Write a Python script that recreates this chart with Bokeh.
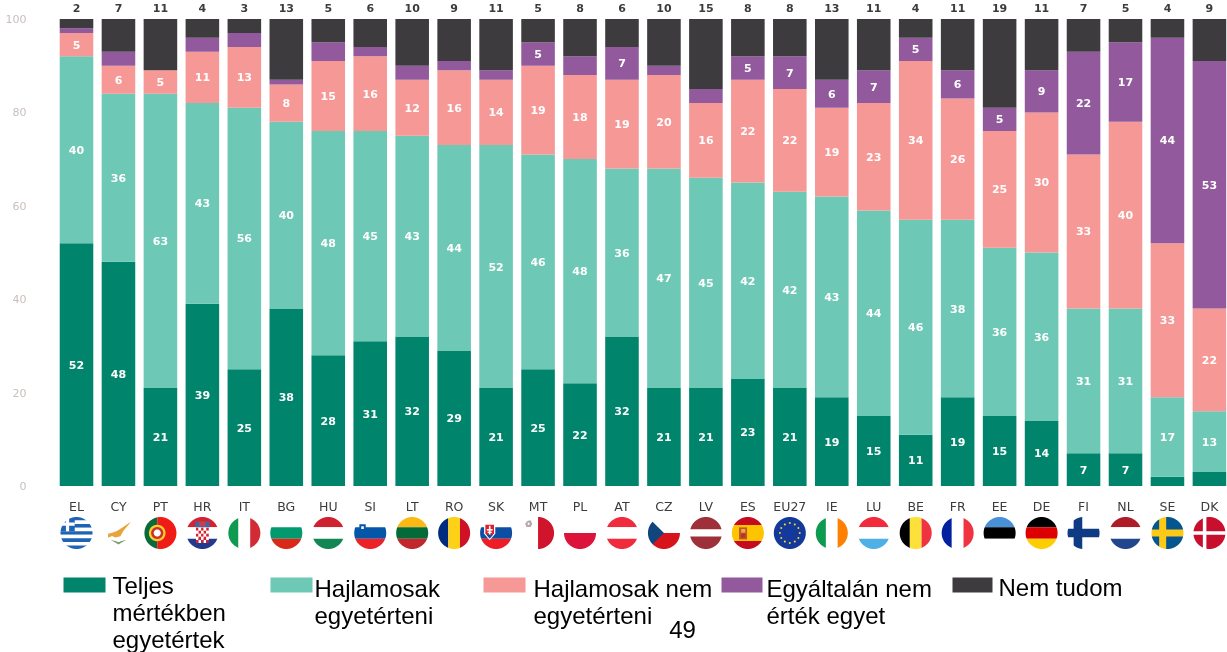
import math
from bokeh.plotting import figure
from bokeh.models import ColumnDataSource, Range1d, FixedTicker
from bokeh.core.properties import value
from bokeh.embed import file_html
from bokeh.resources import INLINE

countries = ["EL","CY","PT","HR","IT","BG","HU","SI","LT","RO","SK","MT","PL","AT","CZ","LV","ES","EU27","IE","LU","BE","FR","EE","DE","FI","NL","SE","DK"]
teljes = [52,48,21,39,25,38,28,31,32,29,21,25,22,32,21,21,23,21,19,15,11,19,15,14,7,7,2,3]
hajlamosak = [40,36,63,43,56,40,48,45,43,44,52,46,48,36,47,45,42,42,43,44,46,38,36,36,31,31,17,13]
hajl_nem = [5,6,5,11,13,8,15,16,12,16,14,19,18,19,20,16,22,22,19,23,34,26,25,30,33,40,33,22]
egyaltalan = [1,3,0,3,3,1,4,2,3,2,2,5,4,7,2,3,5,7,6,7,5,6,5,9,22,17,44,53]
nem_tudom = [2,7,11,4,3,13,5,6,10,9,11,5,8,6,10,15,8,8,13,11,4,11,19,11,7,5,4,9]
series_names = ["teljes","hajlamosak","hajl_nem","egyaltalan","nem_tudom"]
series_colors = ["#00856c","#6dc8b6","#f59896","#92599c","#3e3b3f"]
legend_labels = [["Teljes","mértékben","egyetértek"],["Hajlamosak","egyetérteni"],["Hajlamosak nem","egyetérteni"],["Egyáltalán nem","érték egyet"],["Nem tudom"]]
page_number = "49"

W, H = 1227, 652
LEFT = 30
X0, STEP = 76.0, 41.96
Y0, UNIT = 485.5, 4.67

p = figure(width=W, height=H, output_backend="svg", toolbar_location=None,
           x_range=Range1d((LEFT-X0)/STEP, (W-X0)/STEP),
           y_range=Range1d((Y0-H)/UNIT, Y0/UNIT),
           min_border_left=LEFT, min_border_right=0, min_border_top=0, min_border_bottom=0,
           outline_line_color=None, background_fill_color="white", border_fill_color="white")
p.styles = {"position": "fixed", "left": "0px", "top": "0px"}
p.grid.visible = False
p.extra_x_ranges["px"] = Range1d(LEFT, W)
p.extra_y_ranges["px"] = Range1d(H, 0)

# ---- axes
ya = p.yaxis[0]
ya.ticker = FixedTicker(ticks=[0,20,40,60,80,100])
ya.axis_line_color = None
ya.major_tick_line_color = None
ya.minor_tick_line_color = None
ya.major_tick_out = 0
ya.major_tick_in = 0
ya.minor_tick_out = 0
ya.minor_tick_in = 0
ya.major_label_text_color = "#c9c0bc"
ya.major_label_text_font = "DejaVu Sans"
ya.major_label_text_font_size = "11px"
ya.major_label_standoff = 4

xa = p.xaxis[0]
xa.fixed_location = 0
xa.ticker = FixedTicker(ticks=list(range(len(countries))))
xa.major_label_overrides = {i: c for i, c in enumerate(countries)}
xa.axis_line_color = None
xa.major_tick_line_color = None
xa.minor_tick_line_color = None
xa.major_tick_out = 0
xa.major_tick_in = 0
xa.minor_tick_out = 0
xa.minor_tick_in = 0
xa.major_label_text_color = "#3c3c3c"
xa.major_label_text_font = "DejaVu Sans"
xa.major_label_text_font_size = "12.5px"
xa.major_label_standoff = 13

# ---- bars
idx = list(range(len(countries)))
src = ColumnDataSource(dict(x=idx, teljes=teljes, hajlamosak=hajlamosak, hajl_nem=hajl_nem,
                            egyaltalan=egyaltalan, nem_tudom=nem_tudom))
p.vbar_stack(series_names, x="x", width=0.8, color=series_colors, source=src, line_color=None)

# ---- value labels
lx, ly, lt = [], [], []
rows = [teljes, hajlamosak, hajl_nem, egyaltalan]
for i in idx:
    base = 0
    for r in rows:
        v = r[i]
        if v >= 5:
            lx.append(i); ly.append(base + v/2); lt.append(str(v))
        base += v
p.text(lx, ly, lt, text_color="white", text_font=value("DejaVu Sans"), text_font_style="bold",
       text_font_size="11px", text_align="center", text_baseline="middle")
p.text(idx, [100]*len(idx), [str(v) for v in nem_tudom], y_offset=-11, text_color="#3c3c3c",
       text_font=value("DejaVu Sans"), text_font_style="bold", text_font_size="11px",
       text_align="center", text_baseline="middle")

# ---- flags (decoration, unit-circle shapes)
def rect(x1, y1, x2, y2, c):
    return ([x1, x2, x2, x1], [y1, y1, y2, y2], c)
def poly(pts, c):
    return ([a for a, b in pts], [b for a, b in pts], c)
def disc(x, y, r, c, n=24):
    return ([x + r*math.cos(2*math.pi*k/n) for k in range(n)], [y + r*math.sin(2*math.pi*k/n) for k in range(n)], c)
def hb(*cols):
    n = len(cols); h = 2.2/n
    return [rect(-1.1, 1.1-h*(k+1), 1.1, 1.1-h*k, c) for k, c in enumerate(cols)]
def vb(*cols):
    n = len(cols); w = 2.2/n
    return [rect(-1.1+w*k, -1.1, -1.1+w*(k+1), 1.1, c) for k, c in enumerate(cols)]
def cross(cx, cy, t, bg, fg):
    return [rect(-1.1, -1.1, 1.1, 1.1, bg), rect(cx-t, -1.1, cx+t, 1.1, fg), rect(-1.1, cy-t, 1.1, cy+t, fg)]

def flag(code):
    if code == "EL":
        s = [rect(-1.1, 1.0-k*2/9-2/9, 1.1, 1.0-k*2/9, "#1f63b5" if k % 2 == 0 else "white") for k in range(9)]
        s = [rect(-1.1, 1.0, 1.1, 1.1, "#1f63b5")] + s + [rect(-1.1, -1.1, 1.1, -1.0, "white")]
        s += [rect(-1.1, 0.11, -0.11, 1.1, "#1f63b5"), rect(-0.66, 0.11, -0.46, 1.1, "white"), rect(-1.1, 0.46, -0.11, 0.66, "white")]
        return s
    if code == "CY":
        s = [rect(-1.1, -1.1, 1.1, 1.1, "white")]
        s.append(poly([(-0.65,-0.05),(-0.4,0.02),(-0.1,0.12),(0.25,0.35),(0.8,0.72),(0.55,0.42),(0.3,0.12),(0.12,-0.2),(-0.2,-0.28),(-0.4,-0.18),(-0.65,-0.3)], "#e8a33a"))
        s.append(poly([(-0.5,-0.42),(-0.15,-0.62),(0,-0.72),(0.15,-0.62),(0.5,-0.42),(0.15,-0.52),(0,-0.58),(-0.15,-0.52)], "#7f9a6c"))
        return s
    if code == "PT":
        return [rect(-1.1,-1.1,-0.2,1.1,"#0b6a3c"), rect(-0.2,-1.1,1.1,1.1,"#f01b14"),
                disc(-0.2,0,0.52,"#f5d02e"), disc(-0.2,0,0.38,"#cf2f2a"), disc(-0.2,0,0.22,"white")]
    if code == "HR":
        s = hb("#d8212f", "white", "#233a8f")
        c = ["#d8212f", "white"]
        for r_ in range(5):
            for q in range(5):
                s.append(rect(-0.4+q*0.16, 0.33-r_*0.19-0.19, -0.4+q*0.16+0.16, 0.33-r_*0.19, c[(r_+q) % 2]))
        s.append(rect(-0.45, 0.36, 0.45, 0.72, "#3f66a8"))
        s.append(rect(-0.2, 0.42, 0.2, 0.72, "#c9404a"))
        return s
    if code == "IT": return vb("#0e9a50", "white", "#d12b35")
    if code == "BG": return hb("white", "#009a6e", "#d8291a")
    if code == "HU": return hb("#cf2231", "white", "#128653")
    if code == "SI":
        s = hb("white", "#0457a8", "#ed2227")
        s += [poly([(-0.68,0.55),(-0.28,0.55),(-0.28,0.2),(-0.48,0.03),(-0.68,0.2)], "#0457a8"),
              rect(-0.56,0.25,-0.4,0.42,"white")]
        return s
    if code == "LT": return hb("#fdb913", "#046a38", "#c1272d")
    if code == "RO": return vb("#002b7f", "#fcd116", "#ce1126")
    if code == "SK":
        s = hb("white", "#0b4ea2", "#ee1c25")
        s += [poly([(-0.75,0.6),(-0.05,0.6),(-0.05,-0.05),(-0.4,-0.45),(-0.75,-0.05)], "white"),
              poly([(-0.67,0.52),(-0.13,0.52),(-0.13,-0.02),(-0.4,-0.35),(-0.67,-0.02)], "#e01f2c"),
              rect(-0.45,-0.15,-0.35,0.45,"white"), rect(-0.58,0.15,-0.22,0.25,"white"), rect(-0.53,0.0,-0.27,0.08,"white"),
              poly([(-0.62,-0.1),(-0.18,-0.1),(-0.4,-0.35)], "#0b4ea2")]
        return s
    if code == "MT":
        return [rect(-1.1,-1.1,0,1.1,"white"), rect(0,-1.1,1.1,1.1,"#cf142b"),
                rect(-0.75,0.38,-0.43,0.78,"#b8a6a8"), rect(-0.8,0.5,-0.38,0.66,"#b8a6a8"), disc(-0.59,0.58,0.07,"white")]
    if code == "PL": return [rect(-1.1,0,1.1,1.1,"white"), rect(-1.1,-1.1,1.1,0,"#dc143c")]
    if code == "AT": return hb("#ef2b3d", "white", "#ef2b3d")
    if code == "CZ":
        return [rect(-1.1,0,1.1,1.1,"white"), rect(-1.1,-1.1,1.1,0,"#d7141a"), poly([(-1.1,1.1),(0,0),(-1.1,-1.1)], "#11457e")]
    if code == "LV": return [rect(-1.1,0.22,1.1,1.1,"#9e3039"), rect(-1.1,-0.22,1.1,0.22,"white"), rect(-1.1,-1.1,1.1,-0.22,"#9e3039")]
    if code == "ES":
        return [rect(-1.1,-1.1,1.1,1.1,"#c60b1e"), rect(-1.1,-0.5,1.1,0.5,"#ffc400"),
                rect(-0.55,-0.4,-0.05,0.35,"#c0562d"), rect(-0.42,0.02,-0.16,0.25,"#e8b03a"), rect(-0.42,-0.28,-0.16,-0.05,"#b5342a")]
    if code == "EU27":
        s = [rect(-1.1,-1.1,1.1,1.1,"#133a9a")]
        for k in range(12):
            a = 2*math.pi*k/12
            s.append(disc(0.62*math.cos(a), 0.62*math.sin(a), 0.065, "#f5d33a", 8))
        return s
    if code == "IE": return vb("#0e9a50", "white", "#ff7f00")
    if code == "LU": return hb("#ef2b3d", "white", "#4fb0e6")
    if code == "BE": return vb("#000000", "#fde03a", "#ef3340")
    if code == "FR": return vb("#00209f", "white", "#ef3340")
    if code == "EE": return hb("#4891d9", "#000000", "white")
    if code == "DE": return hb("#000000", "#dd0000", "#ffce00")
    if code == "FI": return cross(-0.35, 0, 0.27, "white", "#0f3b84")
    if code == "NL": return hb("#ae1c28", "white", "#21468b")
    if code == "SE": return cross(-0.3, 0, 0.22, "#03568f", "#fcc917")
    if code == "DK": return cross(-0.3, 0, 0.11, "#c8102e", "white")
    return []

R = 16.0
FY = 532.5
fx, fy, fc = [], [], []
mx, my = [], []
for i, code in enumerate(countries):
    cx = X0 + i*STEP
    for xs, ys, c in flag(code):
        fx.append([cx + a*R for a in xs]); fy.append([FY - b*R for b in ys]); fc.append(c)
    hole_x = [cx + R*math.cos(2*math.pi*k/72) for k in range(72)]
    hole_y = [FY + R*math.sin(2*math.pi*k/72) for k in range(72)]
    outer_x = [cx-19, cx+19, cx+19, cx-19]
    outer_y = [FY-19, FY-19, FY+19, FY+19]
    mx.append([[outer_x, hole_x]]); my.append([[outer_y, hole_y]])
p.patches(fx, fy, fill_color=fc, line_color=None, x_range_name="px", y_range_name="px")
p.multi_polygons(mx, my, fill_color="white", line_color=None, x_range_name="px", y_range_name="px")

# ---- legend
sw_x = [63, 270, 483, 721, 952]
sw_w = [42, 42, 42, 41, 40]
txt_x = [112, 314, 533, 766, 998]
txt_y0 = [585, 587.5, 587.5, 587.5, 586.5]
p.quad(left=sw_x, right=[a+b for a, b in zip(sw_x, sw_w)], top=[577]*5, bottom=[592]*5,
       fill_color=series_colors, line_color=None, x_range_name="px", y_range_name="px")
tx, ty, tt = [], [], []
for k, lines in enumerate(legend_labels):
    for j, s in enumerate(lines):
        tx.append(txt_x[k]); ty.append(txt_y0[k] + j*27.2); tt.append(s)
p.text(tx, ty, tt, text_color="black", text_font=value("Liberation Sans"), text_font_size="24px",
       text_baseline="middle", x_range_name="px", y_range_name="px")
p.text([682], [629], [page_number], text_color="black", text_font=value("Liberation Sans"),
       text_font_size="24px", text_align="center", text_baseline="middle", x_range_name="px", y_range_name="px")

open("out.html", "w").write(file_html(p, INLINE))
